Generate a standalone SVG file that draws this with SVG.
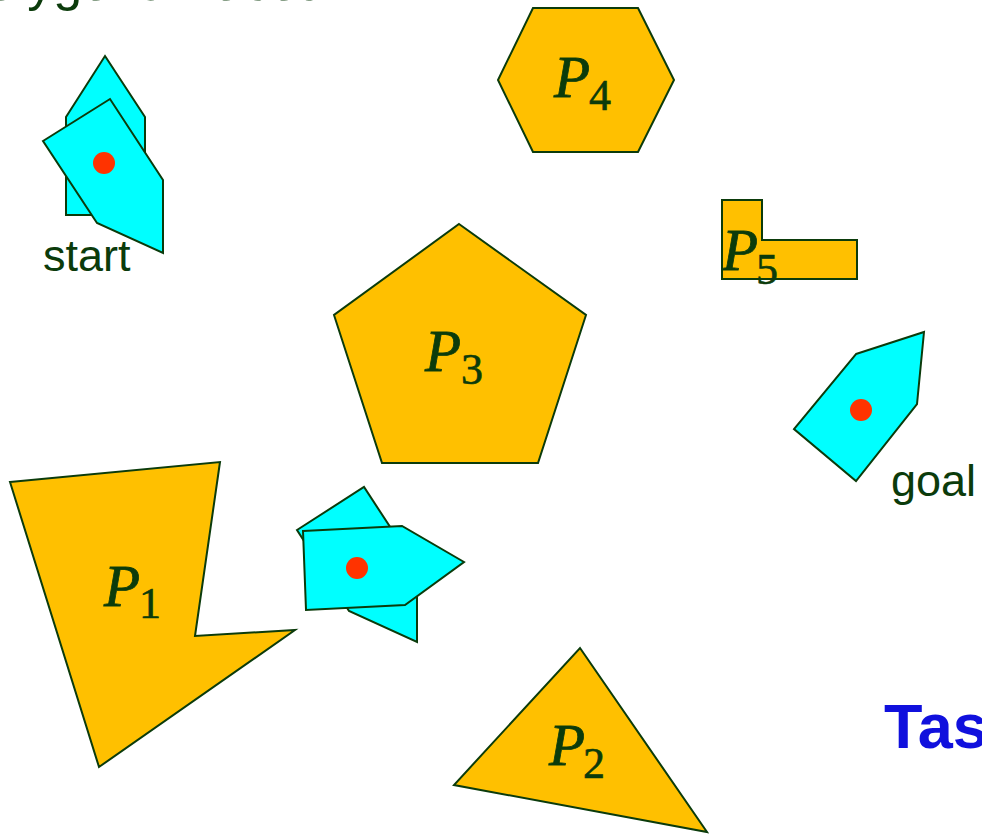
<svg xmlns="http://www.w3.org/2000/svg" width="982" height="834" viewBox="0 0 982 834">
<style>
.obs{fill:#FFC000;stroke:#0B3B0B;stroke-width:2;stroke-linejoin:miter}
.rob{fill:#00FFFF;stroke:#0B3B0B;stroke-width:2;stroke-linejoin:miter}
.dot{fill:#FF3300}
.pl{font-family:"Liberation Serif","DejaVu Serif",serif;font-style:italic;font-size:59px;fill:#0B3B0B;stroke:#0B3B0B;stroke-width:0.8}
.ps{font-family:"Liberation Serif","DejaVu Serif",serif;font-size:44px;fill:#0B3B0B;stroke:#0B3B0B;stroke-width:0.6}
.lbl{font-family:"Liberation Sans",Arial,sans-serif;font-size:45px;fill:#0B3B0B}
</style>
<rect width="982" height="834" fill="#FFFFFF"/>
<text x="-48" y="0" class="lbl" style="font-size:52px">Polygonal robot</text>

<g id="P4">
<polygon class="obs" points="533,8 638,8 674,80 638,152 533,152 498,80"/>
<text class="pl" x="554" y="97">P</text><text class="ps" x="589" y="110">4</text>
</g>
<g id="P3">
<polygon class="obs" points="459,224 586,315 538,463 382,463 334,315"/>
<text class="pl" x="425" y="371">P</text><text class="ps" x="461" y="384">3</text>
</g>
<g id="P5">
<polygon class="obs" points="722,200 762,200 762,240 857,240 857,279 722,279"/>
<text class="pl" x="722" y="270">P</text><text class="ps" x="756" y="284">5</text>
</g>
<g id="P1">
<polygon class="obs" points="10,482 220,462 195,636 295,630 99,767"/>
<text class="pl" x="104" y="606">P</text><text class="ps" x="139" y="618">1</text>
</g>
<g id="P2">
<polygon class="obs" points="580,648 707,832 454,785"/>
<text class="pl" x="549" y="765">P</text><text class="ps" x="583" y="778">2</text>
</g>

<g id="start">
<polygon class="rob" points="105,56 145,117 145,215 66,215 66,117"/>
<polygon class="rob" points="43,141 110,99 163,180 163,253 97,223"/>
<circle class="dot" cx="104" cy="163" r="11"/>
<text class="lbl" x="43" y="271">start</text>
</g>
<g id="middle">
<polygon class="rob" points="297,530 364,487 417,568 417,642 349,611"/>
<polygon class="rob" points="303,531 402,526 464,562 405,605 306,610"/>
<circle class="dot" cx="357" cy="568" r="11"/>
</g>
<g id="goal">
<polygon class="rob" points="856,354 924,332 917,404 856,481 794,429"/>
<circle class="dot" cx="861" cy="410" r="11"/>
<text class="lbl" x="891" y="496">goal</text>
</g>
<g id="connectors"></g>
<text x="884" y="748" style="font-family:'Liberation Sans',Arial,sans-serif;font-weight:bold;font-size:63px;fill:#1010DD">Tas</text>
</svg>
